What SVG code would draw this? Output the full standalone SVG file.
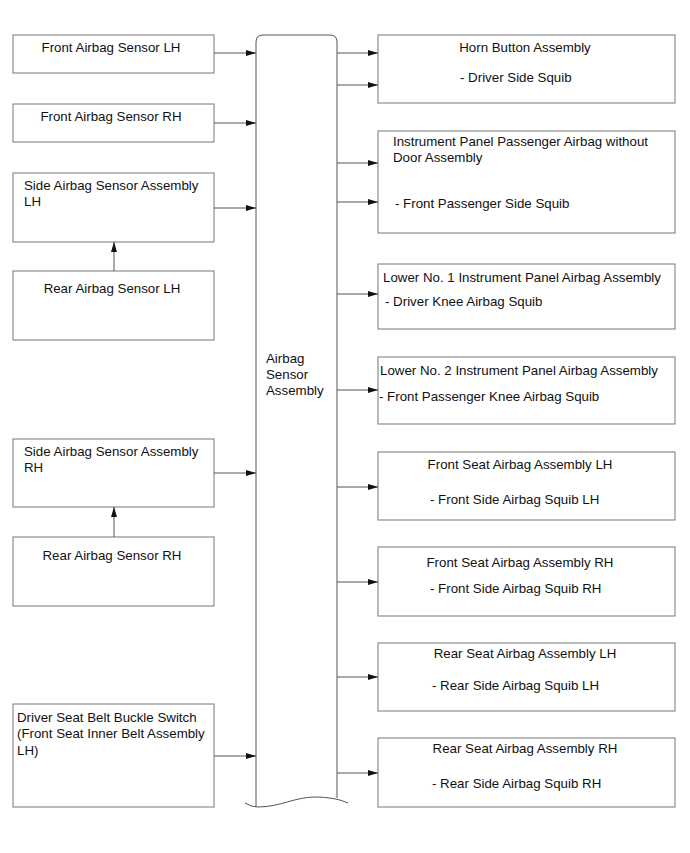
<svg xmlns="http://www.w3.org/2000/svg" width="690" height="853" viewBox="0 0 690 853">
<defs>
<style>
text{font-family:"Liberation Sans",Arial,sans-serif;font-size:13.3px;fill:#111}
.box{fill:#fff;stroke:#777;stroke-width:1}
.c{text-anchor:middle}
.ln{stroke:#555;stroke-width:1;fill:none}
</style>
<marker id="ah" viewBox="0 0 10 6" refX="10" refY="3" markerWidth="10" markerHeight="6" markerUnits="userSpaceOnUse" orient="auto">
<path d="M0,0 L10,3 L0,6 Z" fill="#111"/>
</marker>
</defs>
<rect width="690" height="853" fill="#fff"/>

<g id="central">
<path d="M256,807 L256,42 Q256,35 263,35 L330,35 Q337,35 337,42 L337,798" class="ln" fill="#fff"/>
<path d="M245,803 Q251,807 258,807 C280,807 295,797 315,797 Q335,797 348,803" class="ln"/>
<text x="266" y="363">Airbag</text>
<text x="266" y="379">Sensor</text>
<text x="266" y="395">Assembly</text>
</g>

<g id="front-lh"><rect class="box" x="13" y="35" width="201" height="38"/><text class="c" x="111" y="52">Front Airbag Sensor LH</text></g>
<g id="front-rh"><rect class="box" x="13" y="104" width="201" height="38"/><text class="c" x="111" y="121">Front Airbag Sensor RH</text></g>
<g id="side-lh"><rect class="box" x="13" y="173" width="201" height="69"/><text x="24" y="190">Side Airbag Sensor Assembly</text><text x="24" y="206">LH</text></g>
<g id="rear-lh"><rect class="box" x="13" y="271" width="201" height="69"/><text class="c" x="112" y="293">Rear Airbag Sensor LH</text></g>
<g id="side-rh"><rect class="box" x="13" y="439" width="201" height="68"/><text x="24" y="456">Side Airbag Sensor Assembly</text><text x="24" y="472">RH</text></g>
<g id="rear-rh"><rect class="box" x="13" y="537" width="201" height="69"/><text class="c" x="112" y="560">Rear Airbag Sensor RH</text></g>
<g id="buckle"><rect class="box" x="13" y="704" width="201" height="103"/><text x="17" y="722">Driver Seat Belt Buckle Switch</text><text x="17" y="738">(Front Seat Inner Belt Assembly</text><text x="17" y="755">LH)</text></g>

<g id="horn"><rect class="box" x="378" y="35" width="297" height="68"/><text class="c" x="525" y="52">Horn Button Assembly</text><text x="460" y="82">- Driver Side Squib</text></g>
<g id="ip"><rect class="box" x="378" y="131" width="297" height="102"/><text x="393" y="146">Instrument Panel Passenger Airbag without</text><text x="393" y="162">Door Assembly</text><text x="395" y="208">- Front Passenger Side Squib</text></g>
<g id="lower1"><rect class="box" x="378" y="264" width="297" height="65"/><text x="383" y="282">Lower No. 1 Instrument Panel Airbag Assembly</text><text x="385" y="306">- Driver Knee Airbag Squib</text></g>
<g id="lower2"><rect class="box" x="378" y="357" width="297" height="67"/><text x="380" y="375">Lower No. 2 Instrument Panel Airbag Assembly</text><text x="379" y="401">- Front Passenger Knee Airbag Squib</text></g>
<g id="fseat-lh"><rect class="box" x="378" y="452" width="297" height="68"/><text class="c" x="520" y="469">Front Seat Airbag Assembly LH</text><text x="430" y="504">- Front Side Airbag Squib LH</text></g>
<g id="fseat-rh"><rect class="box" x="378" y="547" width="297" height="69"/><text class="c" x="520" y="567">Front Seat Airbag Assembly RH</text><text x="430" y="593">- Front Side Airbag Squib RH</text></g>
<g id="rseat-lh"><rect class="box" x="378" y="643" width="297" height="68"/><text class="c" x="525" y="658">Rear Seat Airbag Assembly LH</text><text x="432" y="690">- Rear Side Airbag Squib LH</text></g>
<g id="rseat-rh"><rect class="box" x="378" y="738" width="297" height="69"/><text class="c" x="525" y="753">Rear Seat Airbag Assembly RH</text><text x="432" y="788">- Rear Side Airbag Squib RH</text></g>

<g id="connectors" class="ln" marker-end="url(#ah)">
<line x1="214" y1="53" x2="256" y2="53"/>
<line x1="214" y1="123" x2="256" y2="123"/>
<line x1="214" y1="208" x2="256" y2="208"/>
<line x1="114" y1="271" x2="114" y2="242"/>
<line x1="214" y1="473" x2="256" y2="473"/>
<line x1="114" y1="537" x2="114" y2="507"/>
<line x1="214" y1="756" x2="256" y2="756"/>
<line x1="337" y1="53" x2="378" y2="53"/>
<line x1="337" y1="85" x2="378" y2="85"/>
<line x1="337" y1="163" x2="378" y2="163"/>
<line x1="337" y1="202" x2="378" y2="202"/>
<line x1="337" y1="294" x2="378" y2="294"/>
<line x1="337" y1="390" x2="378" y2="390"/>
<line x1="337" y1="487" x2="378" y2="487"/>
<line x1="337" y1="582" x2="378" y2="582"/>
<line x1="337" y1="677" x2="378" y2="677"/>
<line x1="337" y1="773" x2="378" y2="773"/>
</g>
</svg>
